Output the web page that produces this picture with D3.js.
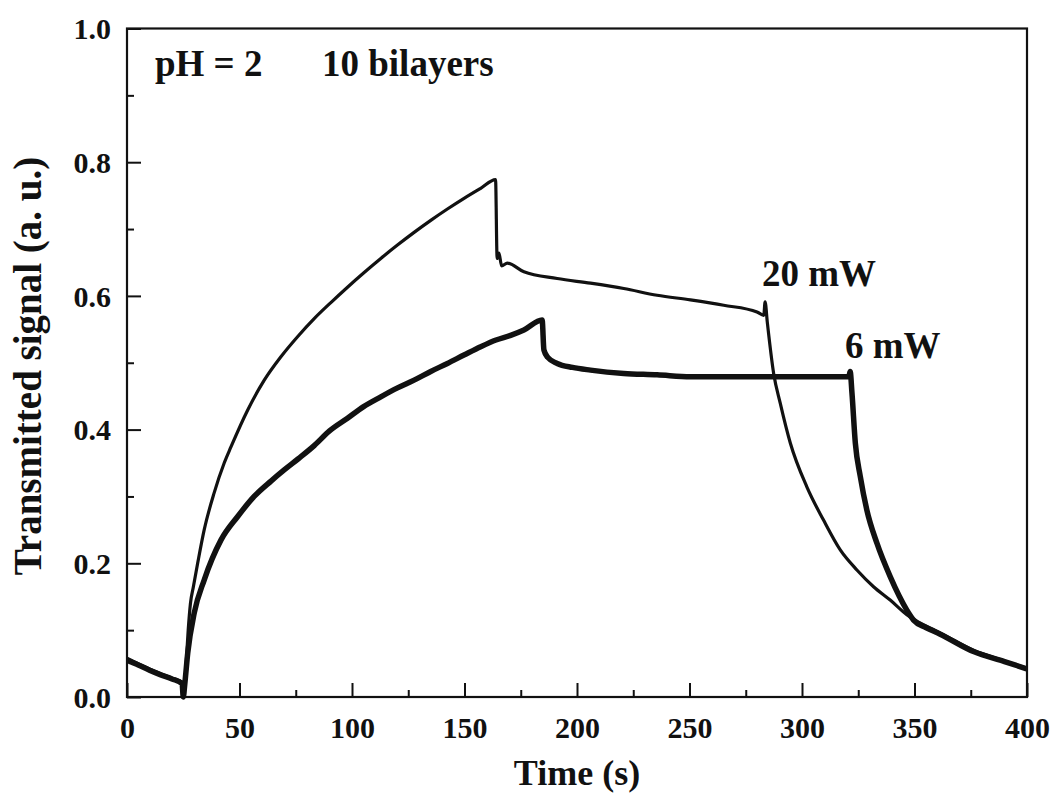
<!DOCTYPE html>
<html>
<head>
<meta charset="utf-8">
<script src="https://cdn.jsdelivr.net/npm/d3@7"></script>
<style>
  html, body { margin: 0; padding: 0; background: #fff; }
  svg { display: block; }
  text { font-family: "Liberation Serif", "Times New Roman", serif; font-weight: bold; fill: #111; }
</style>
</head>
<body>
<svg id="chart" width="1054" height="796"></svg>
<script>
// ---- data ----
const xTicks = [0, 50, 100, 150, 200, 250, 300, 350, 400];
const xMinorTicks = [25, 75, 125, 175, 225, 275, 325, 375];
const yTicks = [0.0, 0.2, 0.4, 0.6, 0.8, 1.0];
const yMinorTicks = [0.1, 0.3, 0.5, 0.7, 0.9];

const series20mW_time = [0, 5, 10, 15, 20, 24.5, 25, 25.6, 26.3, 27.2, 28.2, 29.5, 31.4, 34.3, 38.7, 43.2, 46.2, 53.6, 61, 68.4, 75.8, 83.2, 90.6, 98, 105.4, 112.8, 120.2, 127.6, 135, 142.4, 149.8, 157.2, 163.8, 164.5, 165.3, 166.5, 169, 176.4, 191.2, 206, 220.8, 235.6, 250.4, 265.2, 280, 283, 283.6, 284.6, 287.4, 290.3, 294.8, 302.2, 309.5, 317, 324.4, 331.8, 339.2, 346.6, 361.4, 376.2, 390, 400];
const series20mW_signal = [0.058, 0.050, 0.042, 0.035, 0.028, 0.022, 0.0, 0.015, 0.050, 0.100, 0.140, 0.165, 0.200, 0.250, 0.305, 0.350, 0.374, 0.429, 0.474, 0.509, 0.539, 0.566, 0.590, 0.613, 0.635, 0.656, 0.676, 0.695, 0.713, 0.730, 0.746, 0.761, 0.774, 0.656, 0.664, 0.645, 0.649, 0.636, 0.626, 0.619, 0.611, 0.601, 0.594, 0.586, 0.576, 0.571, 0.591, 0.560, 0.484, 0.440, 0.380, 0.314, 0.265, 0.220, 0.190, 0.165, 0.145, 0.123, 0.096, 0.070, 0.054, 0.043];

const series6mW_time = [0, 5, 10, 15, 20, 24.5, 25, 25.7, 27, 29.9, 34.3, 41.8, 49.2, 56.5, 64, 70, 76, 83.2, 90, 98, 105, 112.8, 120, 127.6, 135, 142.4, 150, 157.2, 164, 170.5, 176.4, 184.5, 185.3, 187, 191.2, 198, 206, 220.8, 235.6, 250.4, 265.2, 280, 300, 320.8, 321.4, 322.2, 323.7, 325.9, 328.8, 333.3, 339.2, 346.6, 349.6, 355, 361.4, 376.2, 390, 400];
const series6mW_signal = [0.055, 0.048, 0.040, 0.033, 0.027, 0.020, 0.0, 0.020, 0.066, 0.126, 0.175, 0.235, 0.270, 0.300, 0.323, 0.340, 0.356, 0.376, 0.398, 0.417, 0.434, 0.449, 0.462, 0.474, 0.487, 0.499, 0.512, 0.524, 0.534, 0.541, 0.549, 0.564, 0.519, 0.508, 0.499, 0.493, 0.489, 0.484, 0.482, 0.479, 0.479, 0.479, 0.479, 0.479, 0.487, 0.455, 0.380, 0.330, 0.280, 0.230, 0.180, 0.130, 0.115, 0.104, 0.094, 0.068, 0.053, 0.042];

const annotations = ["pH = 2", "10 bilayers", "20 mW", "6 mW"];
const xTitle = "Time (s)";
const yTitle = "Transmitted signal (a. u.)";

// ---- layout ----
const W = 1054, H = 796;
const margin = { left: 127, right: 27, top: 28.5, bottom: 99 };
const svg = d3.select("#chart");

const x = d3.scaleLinear().domain([0, 400]).range([margin.left, W - margin.right]);
const y = d3.scaleLinear().domain([0, 1.0]).range([H - margin.bottom, margin.top]);

// curves
const line = d3.line().curve(d3.curveMonotoneX).x(d => x(d[0])).y(d => y(d[1]));
const d6 = series6mW_time.map((t, i) => [t, series6mW_signal[i]]);
const d20 = series20mW_time.map((t, i) => [t, series20mW_signal[i]]);

const plot = svg.append("g");
plot.append("path").datum(d6).attr("d", line)
  .attr("fill", "none").attr("stroke", "#111").attr("stroke-width", 5.5).attr("stroke-linejoin", "round");
plot.append("path").datum(d20).attr("d", line)
  .attr("fill", "none").attr("stroke", "#111").attr("stroke-width", 3.2).attr("stroke-linejoin", "round");

// axes
const fmt = d3.format(".1f");
const gx = svg.append("g").attr("transform", `translate(0,${y(0)})`)
  .call(d3.axisBottom(x).tickValues(xTicks).tickSizeInner(-14).tickSizeOuter(0).tickPadding(20).tickFormat(d3.format("d")));
const gxm = svg.append("g").attr("transform", `translate(0,${y(0)})`)
  .call(d3.axisBottom(x).tickValues(xMinorTicks).tickSizeInner(-7).tickSizeOuter(0).tickFormat(""));
const gy = svg.append("g").attr("transform", `translate(${x(0)},0)`)
  .call(d3.axisLeft(y).tickValues(yTicks).tickSizeInner(-14).tickSizeOuter(0).tickPadding(16).tickFormat(fmt));
const gym = svg.append("g").attr("transform", `translate(${x(0)},0)`)
  .call(d3.axisLeft(y).tickValues(yMinorTicks).tickSizeInner(-7).tickSizeOuter(0).tickFormat(""));

[gx, gxm, gy, gym].forEach(g => {
  g.select(".domain").remove();
  g.selectAll(".tick line").attr("stroke", "#111").attr("stroke-width", 2);
  g.selectAll(".tick text").style("font-size", "30px").style("font-family", "'Liberation Serif', serif")
    .style("font-weight", "bold").attr("fill", "#111");
});
gx.selectAll(".tick text").attr("dy", "0.71em");
gy.selectAll(".tick text").attr("dy", "0.34em");

// frame
svg.append("rect")
  .attr("x", x(0)).attr("y", y(1))
  .attr("width", x(400) - x(0)).attr("height", y(0) - y(1))
  .attr("fill", "none").attr("stroke", "#111").attr("stroke-width", 2.2);

// titles
svg.append("text").attr("x", (x(0) + x(400)) / 2).attr("y", 785)
  .attr("text-anchor", "middle").style("font-size", "36px").text(xTitle);
svg.append("text").attr("transform", `translate(41,${366}) rotate(-90)`)
  .attr("text-anchor", "middle").style("font-size", "39px").text(yTitle);

// annotations
const annPos = [[155, 76], [322, 76], [762, 286], [845, 358]];
annotations.forEach((t, i) => {
  svg.append("text").attr("x", annPos[i][0]).attr("y", annPos[i][1])
    .style("font-size", "37px").text(t);
});
</script>
</body>
</html>
